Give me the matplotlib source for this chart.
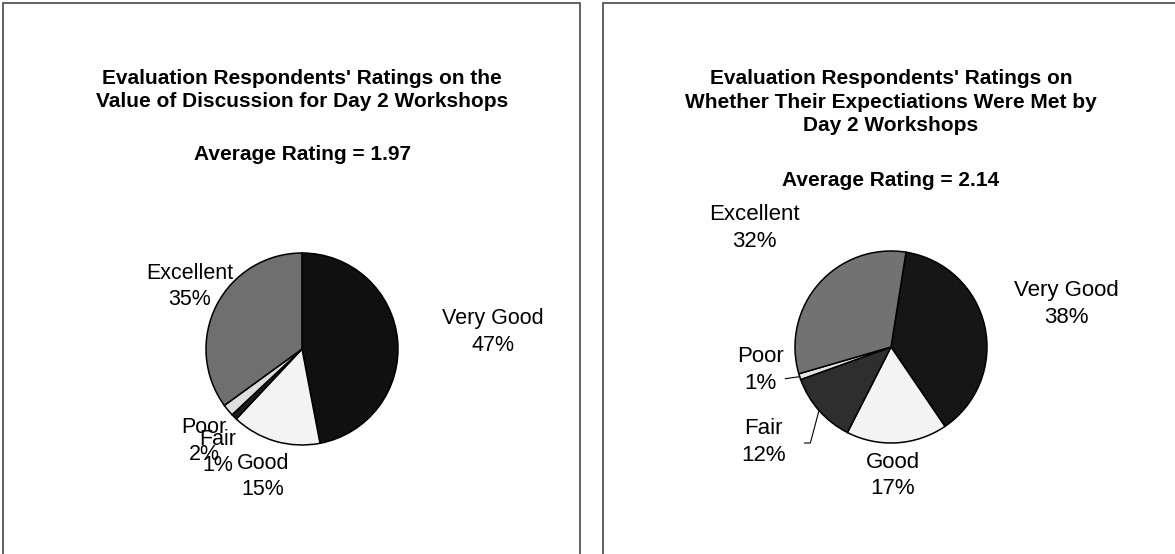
import matplotlib
matplotlib.use('Agg')
import matplotlib.pyplot as plt
from matplotlib.patches import Rectangle
import numpy as np

plt.rcParams['font.family'] = ['Liberation Sans', 'DejaVu Sans']

# data
categories = ['Very Good', 'Good', 'Fair', 'Poor', 'Excellent']
discussion_pct = [47, 15, 1, 2, 35]
expectations_pct = [38, 17, 12, 1, 32]
discussion_avg = 1.97
expectations_avg = 2.14

colors = ['#101010', '#f3f3f3', '#1c1c1c', '#dedede', '#6f6f6f']
colors2 = ['#161616', '#f3f3f3', '#2e2e2e', '#e4e4e4', '#727272']

W, H = 1175, 554
fig = plt.figure(figsize=(W / 100, H / 100), dpi=100)


def px_axes(cx, cy, r):
    # square axes centred on (cx, cy) in pixels from top-left, radius r px
    side = 2.2 * r
    return fig.add_axes([(cx - side / 2) / W, 1 - (cy + side / 2) / H, side / W, side / H])


# panel borders
for x0, x1 in [(3, 580), (603, 1180)]:
    fig.patches.append(Rectangle((x0 / W, -0.05), (x1 - x0) / W, 1.05 - 3 / H,
                                 transform=fig.transFigure, fill=False,
                                 edgecolor='#555555', linewidth=1.3))

# left pie
ax1 = px_axes(302, 349, 96)
wedges1, _ = ax1.pie(discussion_pct, colors=colors, startangle=90, counterclock=False,
                     wedgeprops=dict(edgecolor='black', linewidth=1.1))
ax1.set_xlim(-1.1, 1.1)
ax1.set_ylim(-1.1, 1.1)
ax1.set_aspect('equal')
ax1.axis('off')
pos1 = {'Very Good': (1.99, 0.18), 'Good': (-0.41, -1.33), 'Fair': (-0.88, -1.08),
        'Poor': (-1.02, -0.96), 'Excellent': (-1.17, 0.65)}
for name, v in zip(categories, discussion_pct):
    x, y = pos1[name]
    ax1.text(x, y, f'{name}\n{v}%', ha='center', va='center', fontsize=15.5,
             linespacing=1.35, clip_on=False)

fig.text(302 / W, 1 - 90 / H,
         "Evaluation Respondents' Ratings on the\nValue of Discussion for Day 2 Workshops",
         ha='center', va='center', fontsize=15, fontweight='bold', linespacing=1.32)
fig.text(302 / W, 1 - 155 / H, f'Average Rating = {discussion_avg:.2f}',
         ha='center', va='center', fontsize=15, fontweight='bold')

# right pie
ax2 = px_axes(891, 347, 96)
wedges2, _ = ax2.pie(expectations_pct, colors=colors2, startangle=81, counterclock=False,
                     wedgeprops=dict(edgecolor='black', linewidth=1.1))
ax2.set_xlim(-1.1, 1.1)
ax2.set_ylim(-1.1, 1.1)
ax2.set_aspect('equal')
ax2.axis('off')
pos2 = {'Very Good': (1.83, 0.45), 'Good': (0.02, -1.34), 'Fair': (-1.33, -0.99),
        'Poor': (-1.36, -0.24), 'Excellent': (-1.42, 1.24)}
for name, v in zip(categories, expectations_pct):
    x, y = pos2[name]
    ax2.text(x, y, f'{name}\n{v}%', ha='center', va='center', fontsize=16,
             linespacing=1.35, clip_on=False)

# leader lines for Poor and Fair
for name, start in [('Poor', [(-1.10, -0.33)]), ('Fair', [(-0.90, -1.0), (-0.84, -1.0)])]:
    w = wedges2[categories.index(name)]
    mid = np.deg2rad((w.theta1 + w.theta2) / 2)
    pts = start + [(np.cos(mid), np.sin(mid))]
    ax2.plot([p[0] for p in pts], [p[1] for p in pts], color='black', lw=0.8, clip_on=False)

fig.text(891 / W, 1 - 102 / H,
         "Evaluation Respondents' Ratings on\nWhether Their Expectiations Were Met by\nDay 2 Workshops",
         ha='center', va='center', fontsize=15, fontweight='bold', linespacing=1.32)
fig.text(891 / W, 1 - 181 / H, f'Average Rating = {expectations_avg:.2f}',
         ha='center', va='center', fontsize=15, fontweight='bold')

fig.savefig('out.png', dpi=100, facecolor='white')
